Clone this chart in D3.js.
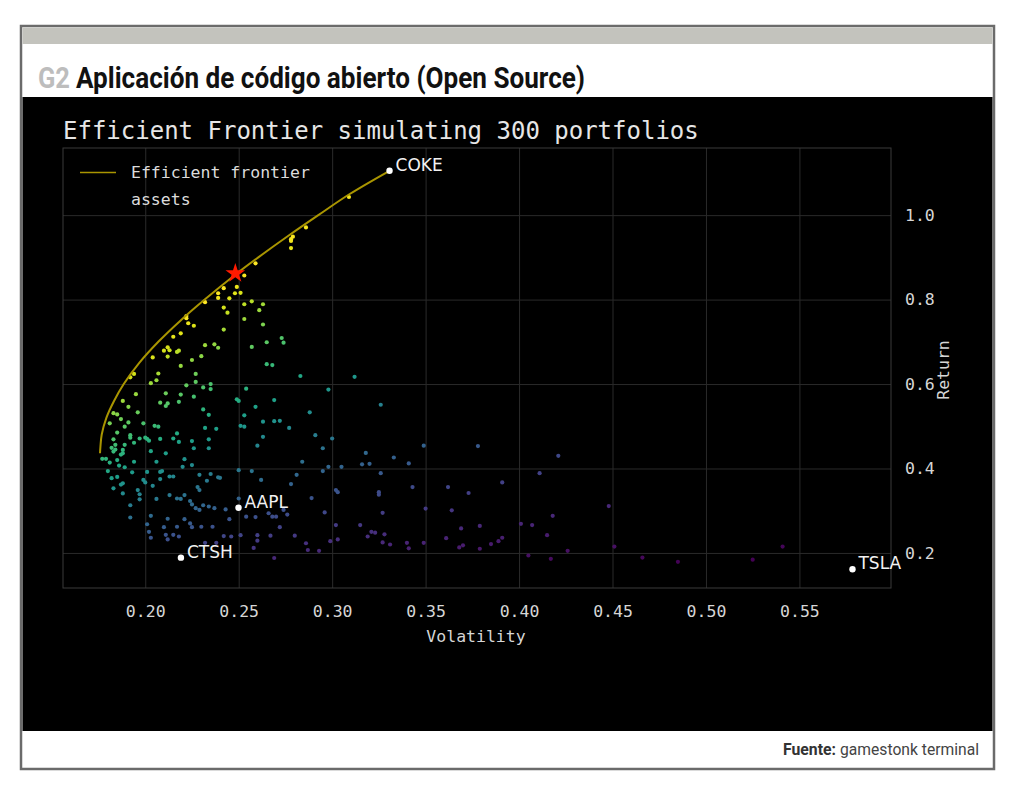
<!DOCTYPE html>
<html><head><meta charset="utf-8">
<script src="https://cdn.jsdelivr.net/npm/d3@7"></script>
<style>body{margin:0;background:#fff}</style>
</head><body><svg id="c" width="1024" height="799"></svg>
<script>
// ---------- DATA ----------
const chartTitle = "Efficient Frontier simulating 300 portfolios";
const xLabel = "Volatility";
const yLabel = "Return";
const xTicks = [0.20, 0.25, 0.30, 0.35, 0.40, 0.45, 0.50, 0.55];
const yTicks = [0.2, 0.4, 0.6, 0.8, 1.0];
const legendLabels = ["Efficient frontier", "assets"];

// simulated portfolios: [volatility, return]
const portfolios = [
[0.309,1.043],[0.286,0.971],[0.279,0.949],[0.278,0.943],[0.278,0.939],[0.278,0.922],
[0.259,0.886],[0.253,0.857],[0.249,0.830],[0.248,0.815],[0.251,0.816],[0.245,0.803],[0.242,0.827],[0.239,0.815],[0.239,0.804],[0.232,0.794],
[0.257,0.796],[0.253,0.789],[0.261,0.775],[0.242,0.781],[0.244,0.769],[0.253,0.754],[0.222,0.761],[0.222,0.756],[0.223,0.744],[0.226,0.738],
[0.242,0.729],[0.219,0.720],[0.215,0.712],[0.232,0.692],[0.237,0.694],[0.239,0.686],[0.212,0.687],[0.210,0.679],[0.213,0.680],[0.217,0.676],
[0.218,0.679],[0.212,0.665],[0.204,0.663],[0.230,0.666],[0.225,0.657],[0.257,0.688],[0.219,0.643],[0.207,0.625],[0.194,0.624],[0.192,0.616],
[0.206,0.609],[0.203,0.602],[0.227,0.624],[0.222,0.597],[0.227,0.605],[0.231,0.592],[0.235,0.600],[0.235,0.588],[0.195,0.576],[0.211,0.578],
[0.219,0.575],[0.226,0.570],[0.254,0.589],[0.249,0.564],
[0.263,0.789],[0.263,0.741],[0.273,0.709],[0.274,0.698],[0.265,0.699],
[0.265,0.647],[0.268,0.645],[0.283,0.619],[0.312,0.617],[0.298,0.587],[0.269,0.562],[0.288,0.533],[0.326,0.551],[0.263,0.511],[0.269,0.512],
[0.272,0.513],[0.277,0.496],[0.291,0.479],[0.300,0.471],[0.263,0.475],[0.295,0.448],[0.349,0.454],[0.378,0.453],[0.421,0.430],[0.318,0.437],
[0.333,0.426],[0.341,0.412],[0.316,0.410],[0.320,0.411],[0.305,0.404],[0.298,0.404],[0.295,0.394],[0.284,0.416],[0.262,0.373],[0.281,0.385],
[0.278,0.363],[0.326,0.389],[0.411,0.389],[0.302,0.349],[0.303,0.344],[0.343,0.356],[0.362,0.356],[0.373,0.342],[0.391,0.367],[0.325,0.344],
[0.325,0.338],[0.289,0.330],[0.274,0.302],[0.276,0.291],[0.296,0.296],[0.327,0.295],[0.350,0.305],[0.364,0.301],[0.418,0.288],[0.266,0.294],
[0.268,0.286],[0.270,0.286],[0.272,0.261],[0.302,0.266],[0.315,0.266],[0.321,0.250],[0.323,0.248],[0.328,0.244],[0.319,0.239],[0.280,0.241],
[0.267,0.241],[0.303,0.232],[0.299,0.228],[0.286,0.223],[0.327,0.225],[0.331,0.220],[0.340,0.224],[0.341,0.211],[0.349,0.224],[0.361,0.235],
[0.369,0.258],[0.379,0.264],[0.368,0.213],[0.370,0.218],[0.379,0.210],[0.385,0.221],[0.389,0.228],[0.391,0.236],[0.401,0.269],[0.407,0.266],
[0.415,0.242],[0.405,0.194],[0.417,0.186],[0.426,0.205],[0.287,0.207],[0.293,0.205],[0.269,0.188],
[0.188,0.560],[0.191,0.546],[0.208,0.556],[0.211,0.548],[0.212,0.554],[0.218,0.558],[0.231,0.540],[0.250,0.560],[0.259,0.546],[0.183,0.531],
[0.185,0.528],[0.196,0.533],[0.234,0.527],[0.253,0.526],[0.187,0.517],[0.191,0.509],[0.199,0.507],[0.181,0.507],[0.205,0.501],[0.207,0.499],
[0.251,0.501],[0.253,0.499],[0.232,0.496],[0.238,0.494],[0.189,0.499],[0.185,0.485],[0.217,0.483],[0.192,0.479],[0.192,0.473],[0.197,0.471],
[0.200,0.473],[0.201,0.470],[0.202,0.466],[0.208,0.470],[0.215,0.471],[0.218,0.463],[0.225,0.465],[0.234,0.469],[0.183,0.469],[0.184,0.456],
[0.189,0.456],[0.194,0.461],[0.182,0.449],[0.184,0.445],[0.183,0.440],[0.188,0.444],[0.188,0.436],[0.187,0.433],[0.203,0.441],[0.211,0.436],
[0.226,0.448],[0.234,0.448],[0.177,0.423],[0.179,0.423],[0.181,0.414],[0.185,0.420],[0.194,0.416],[0.206,0.416],[0.221,0.422],[0.225,0.408],
[0.220,0.404],[0.186,0.407],[0.189,0.403],[0.180,0.394],[0.201,0.392],[0.208,0.392],[0.209,0.394],[0.193,0.391],[0.229,0.385],[0.235,0.387],
[0.239,0.379],[0.240,0.378],[0.250,0.396],[0.257,0.394],[0.182,0.377],[0.185,0.380],[0.213,0.381],[0.215,0.381],[0.208,0.375],[0.199,0.373],
[0.200,0.367],[0.233,0.371],[0.188,0.365],[0.187,0.362],[0.204,0.359],[0.183,0.353],[0.196,0.349],[0.228,0.356],[0.229,0.349],[0.188,0.341],
[0.197,0.339],[0.213,0.337],[0.221,0.337],[0.197,0.327],[0.206,0.328],[0.217,0.329],[0.219,0.328],[0.224,0.323],[0.225,0.315],[0.231,0.313],
[0.234,0.310],[0.237,0.306],[0.243,0.303],[0.227,0.306],[0.229,0.302],[0.192,0.313],[0.250,0.329],[0.245,0.280],[0.254,0.286],[0.259,0.285],
[0.192,0.284],[0.203,0.288],[0.212,0.281],[0.221,0.280],[0.224,0.270],[0.225,0.261],[0.217,0.262],[0.210,0.261],[0.201,0.268],[0.202,0.250],
[0.203,0.236],[0.211,0.243],[0.215,0.243],[0.230,0.262],[0.236,0.262],[0.242,0.240],[0.246,0.239],[0.251,0.242],[0.260,0.242],[0.232,0.224],
[0.238,0.224],[0.258,0.212],[0.218,0.239],[0.212,0.232],[0.260,0.454],[0.260,0.229],
[0.448,0.311],[0.451,0.215],[0.466,0.189],[0.485,0.179],[0.525,0.184],[0.541,0.215]
];

// efficient frontier curve
const frontierVol = [0.1758,0.1760,0.1767,0.1792,0.1833,0.1885,0.1968,0.2070,0.2188,0.2318,0.2485,0.2605,0.2762,0.2926,0.3094,0.3307];
const frontierRet = [0.436,0.450,0.480,0.520,0.560,0.600,0.650,0.700,0.750,0.800,0.860,0.900,0.950,1.000,1.050,1.105];

// individual assets
const assetNames = ["COKE","AAPL","CTSH","TSLA"];
const assetVol = [0.3307,0.2499,0.2191,0.5784];
const assetRet = [1.105,0.3072,0.1889,0.1614];

// max Sharpe portfolio (red star)
const maxSharpeVol = 0.2482;
const maxSharpeRet = 0.862;

// ---------- DRAW ----------
const svg = d3.select("#c");
const mono = "'DejaVu Sans Mono', monospace";
const narrow = "'Liberation Sans Narrow', Roboto, sans-serif";

// card
svg.append("rect").attr("x",21).attr("y",26).attr("width",973).attr("height",743)
  .attr("fill","#fff").attr("stroke","#6b6b6b").attr("stroke-width",2.5);
svg.append("rect").attr("x",22.5).attr("y",27.5).attr("width",970).attr("height",16.5).attr("fill","#c3c3bd");
svg.append("rect").attr("x",22.5).attr("y",97).attr("width",970).attr("height",634).attr("fill","#000");

svg.append("text").attr("x",38).attr("y",88).attr("font-family",narrow).attr("font-weight","bold")
  .attr("font-size",30).attr("fill","#bdbdbd").attr("textLength",32).attr("lengthAdjust","spacingAndGlyphs").text("G2");
svg.append("text").attr("x",76).attr("y",88).attr("font-family",narrow).attr("font-weight","bold")
  .attr("font-size",30).attr("fill","#111").attr("textLength",509).attr("lengthAdjust","spacingAndGlyphs")
  .text("Aplicación de código abierto (Open Source)");

svg.append("text").attr("x",783).attr("y",755).attr("font-family",narrow).attr("font-size",17).attr("font-weight","bold")
  .attr("fill","#333").attr("textLength",53).attr("lengthAdjust","spacingAndGlyphs").text("Fuente:");
svg.append("text").attr("x",840).attr("y",755).attr("font-family",narrow).attr("font-size",17)
  .attr("fill","#444").attr("textLength",139).attr("lengthAdjust","spacingAndGlyphs").text("gamestonk terminal");

// scales
const x = d3.scaleLinear().domain([0.156,0.599]).range([63,891]);
const y = d3.scaleLinear().domain([0.117,1.159]).range([588,148]);

// title
svg.append("text").attr("x",63).attr("y",139).attr("font-family",mono).attr("font-size",24)
  .attr("fill","#e6e6e6").text(chartTitle);

// axes + grid
const gx = svg.append("g").attr("transform","translate(0,588)")
  .call(d3.axisBottom(x).tickValues(xTicks).tickFormat(d3.format(".2f")).tickSizeInner(-440).tickSizeOuter(0).tickPadding(17));
gx.select(".domain").remove();
gx.selectAll("line").attr("stroke","#2a2a2a");
gx.selectAll("text").attr("fill","#d6d6d6").attr("font-family",mono).attr("font-size",16.5);

const gy = svg.append("g").attr("transform","translate(891,0)")
  .call(d3.axisRight(y).tickValues(yTicks).tickFormat(d3.format(".1f")).tickSizeInner(-828).tickSizeOuter(0).tickPadding(14));
gy.select(".domain").remove();
gy.selectAll("line").attr("stroke","#2a2a2a");
gy.selectAll("text").attr("fill","#d6d6d6").attr("font-family",mono).attr("font-size",16.5);

svg.append("rect").attr("x",63).attr("y",148).attr("width",828).attr("height",440)
  .attr("fill","none").attr("stroke","#3a3a3a").attr("stroke-width",1);

svg.append("text").attr("x",476).attr("y",642).attr("text-anchor","middle")
  .attr("font-family",mono).attr("font-size",16.5).attr("fill","#d6d6d6").text(xLabel);
svg.append("text").attr("transform","translate(949,370) rotate(-90)").attr("text-anchor","middle")
  .attr("font-family",mono).attr("font-size",16.5).attr("fill","#d6d6d6").text(yLabel);

// scatter colored by Sharpe ratio
const sharpe = portfolios.map(p => p[1]/p[0]);
const color = d3.scaleSequential(d3.interpolateViridis).domain(d3.extent(sharpe));
svg.append("g").selectAll("circle").data(portfolios).join("circle")
  .attr("cx",d=>x(d[0])).attr("cy",d=>y(d[1])).attr("r",2.1)
  .attr("fill",d=>color(d[1]/d[0]));

// frontier
const fr = frontierVol.map((v,i)=>[v,frontierRet[i]]);
svg.append("path").datum(fr)
  .attr("d",d3.line().x(d=>x(d[0])).y(d=>y(d[1])).curve(d3.curveCatmullRom))
  .attr("fill","none").attr("stroke","#a99500").attr("stroke-width",2);

// assets
const ag = svg.append("g");
assetNames.forEach((n,i)=>{
  ag.append("circle").attr("cx",x(assetVol[i])).attr("cy",y(assetRet[i])).attr("r",3.2).attr("fill","#fff");
  ag.append("text").attr("x",x(assetVol[i])+6).attr("y",y(assetRet[i])).attr("font-family","'DejaVu Sans', sans-serif")
    .attr("font-size",17).attr("fill","#f2f2f2").text(n);
});

// star
svg.append("path").attr("d",d3.symbol(d3.symbolStar,120)())
  .attr("transform",`translate(${x(maxSharpeVol)},${y(maxSharpeRet)})`).attr("fill","#ff1a00");

// legend
svg.append("line").attr("x1",80).attr("x2",116).attr("y1",172.5).attr("y2",172.5).attr("stroke","#a99500").attr("stroke-width",1.5);
svg.append("text").attr("x",131).attr("y",178).attr("font-family",mono).attr("font-size",16.5).attr("fill","#dcdcdc").text(legendLabels[0]);
svg.append("text").attr("x",131).attr("y",205).attr("font-family",mono).attr("font-size",16.5).attr("fill","#dcdcdc").text(legendLabels[1]);
</script>
</body></html>
